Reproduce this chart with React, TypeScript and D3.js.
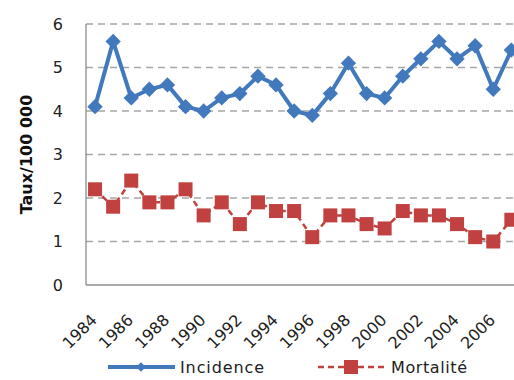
import React from "react";
import * as d3 from "d3";

const years = [1984,1985,1986,1987,1988,1989,1990,1991,1992,1993,1994,1995,1996,1997,1998,1999,2000,2001,2002,2003,2004,2005,2006,2007];
const incidence = [4.1,5.6,4.3,4.5,4.6,4.1,4.0,4.3,4.4,4.8,4.6,4.0,3.9,4.4,5.1,4.4,4.3,4.8,5.2,5.6,5.2,5.5,4.5,5.4];
const mortalite = [2.2,1.8,2.4,1.9,1.9,2.2,1.6,1.9,1.4,1.9,1.7,1.7,1.1,1.6,1.6,1.4,1.3,1.7,1.6,1.6,1.4,1.1,1.0,1.5];
const yTicks = [0,1,2,3,4,5,6];
const seriesNames = ["Incidence", "Mortalité"];

const BLUE = "#4279BD";
const RED = "#C0413F";
const FONT = "'DejaVu Sans', Verdana, sans-serif";

export default function App() {
  const left = 86, top = 24, bottom = 285;
  const step = 18.1;
  const x = d3.scaleBand<number>().domain(years).range([left, left + years.length * step]);
  const y = d3.scaleLinear().domain([0, 6]).range([bottom, top]);
  const cx = (yr: number) => (x(yr) as number) + x.bandwidth() / 2;
  const line = d3.line<number>().x((_, i) => cx(years[i])).y(d => y(d));
  const diamond = d3.symbol().type(d3.symbolDiamond2).size(150);
  const plotRight = 520;

  return (
    <svg width={514} height={380} style={{ position: "absolute", left: 0, top: 0, background: "#fff" }} fontFamily={FONT}>
      {yTicks.filter(t => t > 0).map(t => (
        <line key={t} x1={left} x2={plotRight} y1={y(t)} y2={y(t)} stroke="#a6a6a6" strokeWidth={1.3} strokeDasharray="7,5" />
      ))}
      <line x1={left} x2={left} y1={top} y2={bottom} stroke="#8c8c8c" strokeWidth={1.3} />
      <line x1={left} x2={plotRight} y1={bottom} y2={bottom} stroke="#8c8c8c" strokeWidth={1.3} />
      {yTicks.map(t => (
        <text key={t} x={63} y={y(t)} textAnchor="end" dominantBaseline="central" fontSize={16} fill="#222">{t}</text>
      ))}
      <text transform={`translate(26,${(top + bottom) / 2}) rotate(-90)`} textAnchor="middle" dominantBaseline="central" fontSize={16} fontWeight="bold" fill="#111">Taux/100 000</text>
      {years.filter(yr => yr % 2 === 0).map(yr => (
        <text key={yr} transform={`translate(${cx(yr) + 3},${bottom + 36}) rotate(-45)`} textAnchor="end" fontSize={16} fill="#222">{yr}</text>
      ))}
      <path d={line(mortalite) || ""} fill="none" stroke={RED} strokeWidth={2.5} strokeDasharray="6,4" />
      {mortalite.map((v, i) => (
        <rect key={i} x={cx(years[i]) - 7} y={y(v) - 7} width={14} height={14} fill={RED} />
      ))}
      <path d={line(incidence) || ""} fill="none" stroke={BLUE} strokeWidth={4} strokeLinejoin="round" />
      {incidence.map((v, i) => (
        <path key={i} d={diamond() || ""} transform={`translate(${cx(years[i])},${y(v)})`} fill={BLUE} />
      ))}
      <line x1={108} x2={175} y1={367} y2={367} stroke={BLUE} strokeWidth={4} />
      <path d={d3.symbol().type(d3.symbolDiamond2).size(60)() || ""} transform="translate(141,367)" fill={BLUE} />
      <text x={180} y={367} dominantBaseline="central" fontSize={16} letterSpacing={0.9} fill="#222">{seriesNames[0]}</text>
      <line x1={318} x2={385} y1={367} y2={367} stroke={RED} strokeWidth={2.5} strokeDasharray="6,4" />
      <rect x={344} y={360} width={14} height={14} fill={RED} />
      <text x={391} y={367} dominantBaseline="central" fontSize={16} letterSpacing={0.6} fill="#222">{seriesNames[1]}</text>
    </svg>
  );
}
